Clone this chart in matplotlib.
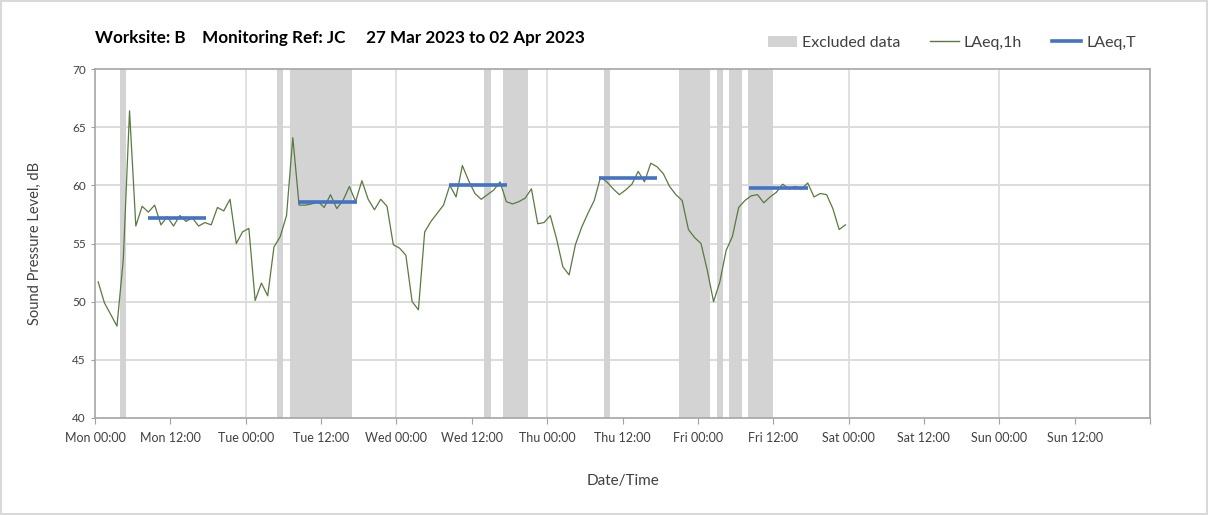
import numpy as np
import matplotlib.pyplot as plt
from matplotlib.patches import Patch
from matplotlib.lines import Line2D

plt.rcParams['font.family'] = ['Lato', 'DejaVu Sans']

# hourly LAeq,1h values, first reading at Mon 00:30 (hours from Mon 00:00)
laeq_1h = [51.7, 49.9, 48.9, 47.9, 53.6, 66.4, 56.5, 58.2, 57.7, 58.3,
           56.6, 57.3, 56.5, 57.4, 56.9, 57.2, 56.5, 56.8, 56.6, 58.1,
           57.8, 58.8, 55.0, 56.0, 56.3, 50.1, 51.6, 50.5, 54.7, 55.6,
           57.4, 64.1, 58.3, 58.3, 58.4, 58.6, 58.1, 59.2, 58.0, 58.7,
           59.9, 58.6, 60.4, 58.8, 57.9, 58.8, 58.2, 54.9, 54.6, 54.0,
           50.0, 49.3, 56.0, 56.9, 57.6, 58.3, 60.0, 59.0, 61.7, 60.4,
           59.3, 58.8, 59.2, 59.6, 60.3, 58.6, 58.4, 58.6, 58.9, 59.7,
           56.7, 56.8, 57.4, 55.4, 53.0, 52.3, 54.9, 56.4, 57.6, 58.7,
           60.7, 60.3, 59.7, 59.2, 59.6, 60.1, 61.2, 60.3, 61.9, 61.6,
           61.0, 59.9, 59.2, 58.7, 56.2, 55.5, 55.0, 52.7, 50.0, 51.7,
           54.4, 55.6, 58.1, 58.7, 59.1, 59.2, 58.5, 59.0, 59.4, 60.1,
           59.7, 59.9, 59.7, 60.2, 59.0, 59.3, 59.2, 58.0, 56.2, 56.6]
hours = np.arange(len(laeq_1h)) + 0.5

# LAeq,T periods (start hour, end hour, level)
t_start = [8.4, 32.3, 56.4, 80.3, 104.2]
t_end = [17.6, 41.7, 65.6, 89.5, 113.5]
t_level = [57.2, 58.6, 60.0, 60.6, 59.8]

# excluded periods (hours from Mon 00:00)
excl_start = [4, 29, 31, 62, 65, 81, 93, 99, 101, 104]
excl_end = [5, 30, 41, 63, 69, 82, 98, 100, 103, 108]

tick_labels = ['Mon 00:00', 'Mon 12:00', 'Tue 00:00', 'Tue 12:00', 'Wed 00:00', 'Wed 12:00',
               'Thu 00:00', 'Thu 12:00', 'Fri 00:00', 'Fri 12:00', 'Sat 00:00', 'Sat 12:00',
               'Sun 00:00', 'Sun 12:00', '']

fig = plt.figure(figsize=(12.08, 5.15), dpi=100)
fig.patch.set_edgecolor('#d9d9d9')
fig.patch.set_linewidth(1.5)
ax = fig.add_axes([95/1208, 1-418/515, (1150-95)/1208, (418-69)/515])

grey = '#d3d3d3'
for s, e in zip(excl_start, excl_end):
    ax.axvspan(s, e, facecolor=grey, edgecolor='none', zorder=1)

ax.plot(hours, laeq_1h, color='#587a3f', lw=0.9, zorder=3)
ax.hlines(t_level, t_start, t_end, color='#4472c4', lw=2.6, zorder=4)

ax.set_xlim(0, 168)
ax.set_ylim(40, 70)
ax.set_xticks(np.arange(0, 169, 12))
ax.set_xticklabels(tick_labels, fontsize=9, color='#404040')
ax.set_yticks(np.arange(40, 71, 5))
ax.tick_params(axis='y', labelsize=8.5, colors='#404040', length=3, color='#a0a0a0')
ax.tick_params(axis='x', length=4, color='#a0a0a0', pad=6)

for yv in range(45, 70, 5):
    ax.axhline(yv, color='#d9d9d9', lw=1.3, zorder=0)
for xv in range(24, 168, 24):
    ax.axvline(xv, color='#dedede', lw=1.3, zorder=0)

for sp in ax.spines.values():
    sp.set_color('#a6a6a6')
    sp.set_linewidth(1.2)

ax.set_ylabel('Sound Pressure Level, dB', fontsize=10.5, color='#404040', labelpad=22)
ax.set_xlabel('Date/Time', fontsize=11, color='#404040', labelpad=22)

fig.text(95/1208, 1-38/515, 'Worksite: B    Monitoring Ref: JC     27 Mar 2023 to 02 Apr 2023',
         fontsize=12.3, fontweight='bold', va='center', ha='left')

handles = [Patch(facecolor=grey, edgecolor='none'),
           Line2D([], [], color='#587a3f', lw=1.0),
           Line2D([], [], color='#4472c4', lw=2.6)]
fig.legend(handles, ['Excluded data', 'LAeq,1h', 'LAeq,T'], loc='center right',
           bbox_to_anchor=(1150/1208, 1-43/515), ncol=3, frameon=False, fontsize=11.5,
           handlelength=1.8, handletextpad=0.3, columnspacing=1.9, labelcolor='#404040')

fig.savefig('out.png', dpi=100)
